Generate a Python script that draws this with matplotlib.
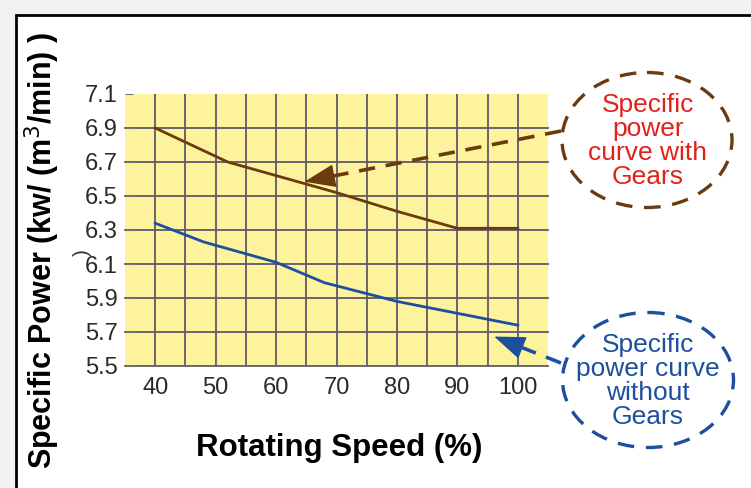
import numpy as np
import matplotlib
matplotlib.use("Agg")
import matplotlib.pyplot as plt
from matplotlib.patches import Ellipse, Rectangle

# data
speed_gears = [40, 52, 60, 70, 80, 90, 100]
power_gears = [6.90, 6.70, 6.62, 6.52, 6.41, 6.31, 6.31]
speed_nogears = [40, 48, 60, 68, 80, 90, 100]
power_nogears = [6.34, 6.23, 6.11, 5.99, 5.88, 5.81, 5.74]

x_ticks = [40, 50, 60, 70, 80, 90, 100]
x_minor = [45, 55, 65, 75, 85, 95]
y_ticks = [5.5, 5.7, 5.9, 6.1, 6.3, 6.5, 6.7, 6.9, 7.1]

label_gears = "Specific\npower\ncurve with\nGears"
label_nogears = "Specific\npower curve\nwithout\nGears"

brown = "#6b3a0e"
blue = "#1d4f9e"
red = "#e3211b"

plt.rcParams['font.family'] = ['Liberation Sans', 'DejaVu Sans']

W, H = 751, 488
fig = plt.figure(figsize=(W / 100, H / 100), dpi=100)
fig.patch.set_facecolor('#f2f2f2')

# background frame
bg = fig.add_axes([0, 0, 1, 1], zorder=0)
bg.set_xlim(0, W)
bg.set_ylim(H, 0)
bg.axis('off')
bg.add_patch(Rectangle((16, 15), 800, 600, facecolor='white', edgecolor='black', lw=2))

# main plot
left, right, top, bottom = 125, 548, 94, 366
ax = fig.add_axes([left / W, 1 - bottom / H, (right - left) / W, (bottom - top) / H], zorder=1)
ax.set_facecolor('#fcf39c')
ax.plot(speed_gears, power_gears, color=brown, lw=2.0, zorder=3)
ax.plot(speed_nogears, power_nogears, color=blue, lw=2.0, zorder=3)

ax.set_xlim(35, 105)
ax.set_ylim(5.5, 7.1)
ax.set_xticks(x_ticks)
ax.set_xticks(x_minor, minor=True)
ax.set_yticks(y_ticks)
ax.set_yticklabels([f"{v:.1f}" for v in y_ticks])
for s in ax.spines.values():
    s.set_visible(False)
ax.tick_params(axis='both', which='both', direction='in', length=6, color='#777777',
               labelsize=17, labelcolor='#2a2a2a')
ax.tick_params(axis='x', pad=8)
ax.tick_params(axis='y', pad=5)
ax.grid(True, which='both', color='#5f5a6a', lw=1.3)
ax.set_axisbelow(True)
for gl in ax.get_ygridlines():
    gl.set_clip_on(False)
ax.get_ygridlines()[-1].set_visible(False)

ax.set_xlabel("Rotating Speed (%)", fontsize=22.5, fontweight='bold', va='center')
ax.xaxis.set_label_coords((339 - left) / (right - left), (bottom - 448) / (bottom - top))
ax.set_ylabel("Specific Power (kw/ (m$^3$/min) )", fontsize=22, fontweight='bold', va='center')
ax.yaxis.set_label_coords((42 - left) / (right - left), (bottom - 250) / (bottom - top))

# callouts
deco = fig.add_axes([0, 0, 1, 1], zorder=2)
deco.set_xlim(0, W)
deco.set_ylim(H, 0)
deco.axis('off')
deco.patch.set_visible(False)

deco.add_patch(Ellipse((647, 140), 170, 135, fill=False, edgecolor=brown, lw=2.4,
                       linestyle=(0, (5, 3.5))))
deco.add_patch(Ellipse((648, 380), 171, 135, fill=False, edgecolor=blue, lw=2.4,
                       linestyle=(0, (5, 3.5))))
deco.text(648, 141, label_gears, ha='center', va='center', fontsize=19, color=red,
          linespacing=1.0)
deco.text(648, 381, label_nogears, ha='center', va='center', fontsize=19, color=blue,
          linespacing=1.0)


def dashed_arrow(tip, tail, color):
    # tip is in data units of the main axes, tail in pixels of the overlay
    fig.canvas.draw()
    tip_px = deco.transData.inverted().transform(ax.transData.transform(tip))
    tail = np.array(tail, dtype=float)
    d = tail - tip_px
    d = d / np.hypot(*d)
    neck = tip_px + d * 26
    deco.plot([tail[0], neck[0]], [tail[1], neck[1]], color=color, lw=2.6,
              linestyle=(0, (4.5, 3)), solid_capstyle='butt')
    deco.annotate('', xy=tip_px, xytext=tip_px + d * 30, textcoords='data',
                  arrowprops=dict(arrowstyle='-|>,head_length=2.0,head_width=0.75',
                                  color=color, lw=1, shrinkA=0, shrinkB=0))


dashed_arrow((64.7, 6.584), (561, 131), brown)
dashed_arrow((96.1, 5.673), (561, 363), blue)

deco.text(82, 253, ')', rotation=90, fontsize=15, color='#333333', ha='center', va='center')

fig.savefig('out.png', dpi=100, facecolor=fig.get_facecolor())
